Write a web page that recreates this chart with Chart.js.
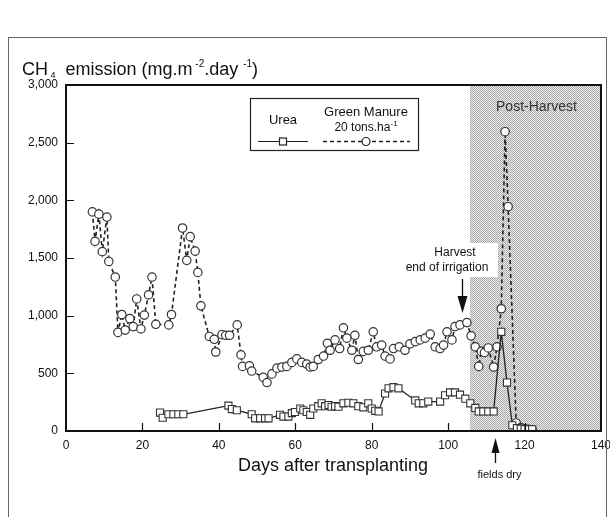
<!DOCTYPE html>
<html lang="en">
  <head>
    <meta charset="UTF-8" />
    <title>CH4 emission</title>
    <script src="https://cdn.jsdelivr.net/npm/chart.js"></script>
    <style>
      body {
        margin: 0;
        background: #fff;
      }
      #wrap {
        width: 610px;
        height: 517px;
      }
    </style>
  </head>
  <body>
    <div id="wrap"><canvas id="ch4Chart" width="610" height="517"></canvas></div>

    <script>
      // Green manure (20 tons/ha) - days after transplanting and CH4 flux
      var gmDays = [6.9, 7.6, 8.6, 9.5, 10.7, 11.2, 12.9, 13.6, 14.6, 15.5, 16.7, 17.6, 18.5, 19.6, 20.5, 21.6, 22.5, 23.5, 26.9, 27.6,
        30.5, 31.6, 32.5, 33.8, 34.5, 35.3, 37.5, 38.8, 39.2, 40.8, 41.8, 42.8, 44.8, 45.8, 46.2, 48.0, 48.6, 51.6, 52.6, 53.9,
        55.2, 56.5, 57.8, 59.1, 60.4, 61.7, 63.0, 63.9, 64.7, 66.0, 67.4, 68.4, 69.1, 70.4, 71.6, 72.6, 73.5, 74.8, 75.6, 76.5,
        77.8, 79.1, 80.4, 81.3, 82.6, 83.5, 84.8, 85.7, 87.2, 88.7, 90.0, 91.4, 92.7, 94.0, 95.3, 96.6, 97.9, 98.8, 99.7, 101.0,
        101.8, 103.1, 104.9, 106.0, 107.1, 108.0, 108.7, 109.5, 110.5, 111.9, 112.8, 113.9, 114.9, 115.7, 117.8, 119.0, 120.0, 121.0, 122.0];
      var gmValues = [1900, 1645, 1880, 1555, 1855, 1470, 1335, 855, 1010, 875, 975, 905, 1145, 885, 1005, 1180, 1335, 925, 920, 1010,
        1760, 1480, 1685, 1560, 1375, 1085, 820, 795, 685, 835, 830, 830, 920, 660, 560, 565, 520, 465, 420, 495,
        545, 555, 560, 595, 625, 595, 580, 555, 560, 620, 650, 760, 700, 790, 715, 895, 805, 700, 830, 620,
        690, 700, 860, 730, 745, 650, 625, 715, 730, 700, 755, 775, 790, 805, 840, 730, 715, 745, 860, 790,
        905, 920, 940, 825, 730, 560, 690, 680, 720, 555, 730, 1060, 2595, 1945, 70, 30, 20, 15, 10];

      // Urea
      var ureaDays = [24.6, 25.3, 26.8, 28.1, 29.4, 30.7, 42.5, 43.4, 44.7, 48.6, 49.5, 50.8, 52.1, 53.0, 56.0, 56.9, 58.2, 59.1, 59.9, 61.3,
        62.1, 63.0, 63.9, 64.7, 66.0, 66.9, 67.8, 68.7, 69.5, 70.4, 71.3, 72.6, 73.9, 75.2, 76.5, 77.8, 79.1, 80.0, 80.9, 81.8,
        83.5, 84.4, 85.7, 87.0, 91.4, 92.3, 93.5, 94.8, 97.9, 99.2, 100.5, 101.8, 103.1, 104.5, 105.8, 107.1, 108.0, 109.2, 110.5, 111.9,
        113.9, 115.4, 116.8, 118.0, 119.0, 120.0, 121.0, 122.0];
      var ureaValues = [160, 115, 145, 145, 145, 145, 220, 190, 180, 145, 110, 110, 110, 110, 140, 125, 125, 155, 165, 195,
        180, 165, 140, 195, 215, 240, 215, 225, 210, 215, 210, 240, 245, 240, 215, 205, 240, 195, 175, 170,
        325, 370, 380, 370, 265, 240, 240, 255, 255, 310, 335, 335, 315, 280, 240, 200, 170, 170, 170, 170,
        860, 420, 50, 25, 20, 15, 15, 15];

      var xTicks = [0, 20, 40, 60, 80, 100, 120, 140];
      var yTicks = [0, 500, 1000, 1500, 2000, 2500, 3000];

      var postHarvestStart = 105.7;
      var harvestDay = 103.5;
      var fieldsDryDay = 112.3;

      var FONT = '"Liberation Sans", Arial, Helvetica, sans-serif';

      function toPoints(days, values) {
        return days.map(function (d, i) {
          return { x: d, y: values[i] };
        });
      }

      function makePattern(ctx) {
        var c = document.createElement("canvas");
        c.width = 2;
        c.height = 2;
        var p = c.getContext("2d");
        p.fillStyle = "#ececec";
        p.fillRect(0, 0, 2, 2);
        p.fillStyle = "#aaaaaa";
        p.fillRect(0, 0, 1, 1);
        p.fillRect(1, 1, 1, 1);
        return ctx.createPattern(c, "repeat");
      }

      function drawRuns(ctx, x, y, runs) {
        runs.forEach(function (r) {
          ctx.font = r.size + "px " + FONT;
          ctx.fillText(r.text, x, y + (r.dy || 0));
          x += ctx.measureText(r.text).width;
        });
        return x;
      }

      function runsWidth(ctx, runs) {
        var w = 0;
        runs.forEach(function (r) {
          ctx.font = r.size + "px " + FONT;
          w += ctx.measureText(r.text).width;
        });
        return w;
      }

      function square(ctx, x, y, s) {
        ctx.fillStyle = "#fff";
        ctx.fillRect(x - s / 2, y - s / 2, s, s);
        ctx.strokeRect(x - s / 2, y - s / 2, s, s);
      }

      function circle(ctx, x, y, r) {
        ctx.beginPath();
        ctx.arc(x, y, r, 0, Math.PI * 2);
        ctx.fillStyle = "#fff";
        ctx.fill();
        ctx.stroke();
      }

      var decorations = {
        id: "decorations",
        beforeDatasetsDraw: function (chart) {
          var ctx = chart.ctx;
          var a = chart.chartArea;
          var xs = chart.scales.x;
          var x0 = xs.getPixelForValue(postHarvestStart);
          ctx.save();
          ctx.fillStyle = makePattern(ctx);
          ctx.fillRect(x0, a.top, a.right - x0, a.bottom - a.top);
          // white label box for the harvest note
          ctx.fillStyle = "#fff";
          ctx.fillRect(397, 243, 101, 34);
          ctx.restore();
        },
        afterDraw: function (chart) {
          var ctx = chart.ctx;
          var a = chart.chartArea;
          var xs = chart.scales.x;
          var ys = chart.scales.y;
          ctx.save();

          // plot frame
          ctx.strokeStyle = "#111";
          ctx.lineWidth = 2;
          ctx.strokeRect(a.left, a.top, a.right - a.left, a.bottom - a.top);

          // inner ticks
          ctx.lineWidth = 1.2;
          ctx.beginPath();
          xTicks.forEach(function (t) {
            if (t === 0 || t === 140) return;
            var px = Math.round(xs.getPixelForValue(t)) + 0.5;
            ctx.moveTo(px, a.bottom);
            ctx.lineTo(px, a.bottom - 8);
          });
          yTicks.forEach(function (t) {
            if (t === 0 || t === 3000) return;
            var py = Math.round(ys.getPixelForValue(t)) + 0.5;
            ctx.moveTo(a.left, py);
            ctx.lineTo(a.left + 8, py);
          });
          ctx.stroke();

          // outer figure frame
          ctx.strokeStyle = "#666";
          ctx.lineWidth = 1;
          ctx.strokeRect(8.5, 37.5, 598, 500);

          ctx.fillStyle = "#111";
          ctx.textBaseline = "alphabetic";
          ctx.textAlign = "left";

          // y axis title
          drawRuns(ctx, 22, 75, [
            { text: "CH", size: 18 },
            { text: " 4", size: 9, dy: 3 },
            { text: "  emission (mg.m", size: 18 },
            { text: " -2", size: 10, dy: -8 },
            { text: ".day ", size: 18 },
            { text: "-1", size: 10, dy: -8 },
            { text: ")", size: 18 },
          ]);

          // x axis title
          ctx.textAlign = "center";
          ctx.textBaseline = "middle";
          ctx.font = "18px " + FONT;
          ctx.fillText("Days after transplanting", 333, 466);

          // Post-Harvest label
          ctx.fillStyle = "#333";
          ctx.font = "14px " + FONT;
          ctx.fillText("Post-Harvest", (xs.getPixelForValue(postHarvestStart) + a.right) / 2 + 1, 107);

          // Harvest note + arrow
          ctx.fillStyle = "#111";
          ctx.font = "12px " + FONT;
          ctx.fillText("Harvest", 455, 253);
          ctx.fillText("end of irrigation", 447, 268);
          var hx = Math.round(xs.getPixelForValue(harvestDay)) + 0.5;
          ctx.strokeStyle = "#111";
          ctx.lineWidth = 1.3;
          ctx.beginPath();
          ctx.moveTo(hx, 279);
          ctx.lineTo(hx, 297);
          ctx.stroke();
          ctx.beginPath();
          ctx.moveTo(hx - 5, 296);
          ctx.lineTo(hx + 5, 296);
          ctx.lineTo(hx, 313);
          ctx.closePath();
          ctx.fill();

          // fields dry arrow
          var fx = Math.round(xs.getPixelForValue(fieldsDryDay)) + 0.5;
          ctx.beginPath();
          ctx.moveTo(fx, 452);
          ctx.lineTo(fx, 463);
          ctx.stroke();
          ctx.beginPath();
          ctx.moveTo(fx - 4, 453);
          ctx.lineTo(fx + 4, 453);
          ctx.lineTo(fx, 438);
          ctx.closePath();
          ctx.fill();
          ctx.font = "11px " + FONT;
          ctx.fillText("fields dry", fx + 4, 475);

          // legend
          ctx.fillStyle = "#fff";
          ctx.fillRect(250, 98, 168, 52);
          ctx.strokeStyle = "#222";
          ctx.lineWidth = 1.2;
          ctx.strokeRect(250.5, 98.5, 168, 52);
          ctx.fillStyle = "#111";
          ctx.font = "13px " + FONT;
          ctx.fillText("Urea", 283, 120);
          ctx.fillText("Green Manure", 366, 112);
          var r2 = [
            { text: "20 tons.ha", size: 12 },
            { text: "-1", size: 8, dy: -5 },
          ];
          ctx.textAlign = "left";
          ctx.textBaseline = "alphabetic";
          drawRuns(ctx, 366 - runsWidth(ctx, r2) / 2, 131, r2);

          ctx.lineWidth = 1.2;
          ctx.strokeStyle = "#222";
          ctx.beginPath();
          ctx.moveTo(258, 141.5);
          ctx.lineTo(308, 141.5);
          ctx.stroke();
          square(ctx, 283, 141.5, 7);
          ctx.setLineDash([4, 3]);
          ctx.lineWidth = 1.6;
          ctx.beginPath();
          ctx.moveTo(323, 141.5);
          ctx.lineTo(410, 141.5);
          ctx.stroke();
          ctx.setLineDash([]);
          ctx.lineWidth = 1.2;
          circle(ctx, 366, 141.5, 4);

          ctx.restore();
        },
      };

      new Chart(document.getElementById("ch4Chart").getContext("2d"), {
        type: "line",
        data: {
          datasets: [
            {
              label: "Urea",
              data: toPoints(ureaDays, ureaValues),
              borderColor: "#222",
              borderWidth: 1.3,
              pointStyle: "rect",
              pointRadius: 5,
              pointBackgroundColor: "#fff",
              pointBorderColor: "#333",
              pointBorderWidth: 1.1,
              tension: 0,
            },
            {
              label: "Green Manure 20 tons.ha-1",
              data: toPoints(gmDays, gmValues),
              borderColor: "#222",
              borderWidth: 1.6,
              borderDash: [4, 3],
              pointStyle: "circle",
              pointRadius: 4.2,
              pointBackgroundColor: "#fff",
              pointBorderColor: "#333",
              pointBorderWidth: 1.2,
              tension: 0,
            },
          ],
        },
        options: {
          responsive: false,
          animation: false,
          layout: { padding: { top: 85, right: 9, left: 0, bottom: 0 } },
          plugins: {
            legend: { display: false },
            tooltip: { enabled: false },
          },
          scales: {
            x: {
              type: "linear",
              min: 0,
              max: 140,
              afterBuildTicks: function (s) {
                s.ticks = xTicks.map(function (v) { return { value: v }; });
              },
              ticks: {
                font: { size: 12, family: FONT },
                color: "#111",
                padding: 7,
                maxRotation: 0,
              },
              grid: { display: false, drawTicks: false },
              border: { display: false },
              afterFit: function (s) {
                s.height = 86;
                s.paddingRight = 0;
                s.paddingLeft = 0;
              },
            },
            y: {
              min: 0,
              max: 3000,
              afterBuildTicks: function (s) {
                s.ticks = yTicks.map(function (v) { return { value: v }; });
              },
              ticks: {
                font: { size: 12, family: FONT },
                color: "#111",
                padding: 8,
                callback: function (v) {
                  return v.toLocaleString("en-US");
                },
              },
              grid: { display: false, drawTicks: false },
              border: { display: false },
              afterFit: function (s) {
                s.width = 66;
                s.paddingTop = 0;
                s.paddingBottom = 0;
              },
            },
          },
        },
        plugins: [decorations],
      });
    </script>
  </body>
</html>
